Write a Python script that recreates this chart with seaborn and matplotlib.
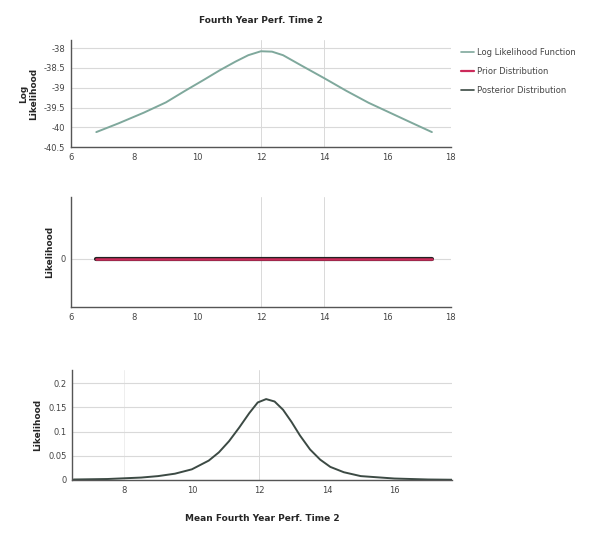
import numpy as np
import pandas as pd
import matplotlib
matplotlib.use("Agg")
import matplotlib.pyplot as plt
import seaborn as sns
from matplotlib.lines import Line2D

sns.set_style("white")
plt.rcParams['font.family'] = ['DejaVu Sans']

# --- dados ---
loglik_x = [6.8, 7.5, 8.3, 9.0, 9.6, 10.2, 10.7, 11.2, 11.6, 12.0, 12.35, 12.7, 13.3,
            14.0, 14.7, 15.4, 16.1, 16.8, 17.4]
loglik_y = [-40.12, -39.9, -39.63, -39.37, -39.08, -38.8, -38.56, -38.34, -38.18, -38.08,
            -38.09, -38.18, -38.45, -38.76, -39.08, -39.38, -39.64, -39.9, -40.12]

prior_x = [6.8, 17.4]
prior_y = [0.0, 0.0]

post_x = [6.5, 7.5, 8.5, 9.0, 9.5, 10.0, 10.5, 10.8, 11.1, 11.4, 11.7, 11.95, 12.2,
          12.45, 12.7, 12.95, 13.2, 13.5, 13.8, 14.1, 14.5, 15.0, 16.0, 17.0, 17.7]
post_y = [0.001, 0.002, 0.005, 0.008, 0.013, 0.022, 0.040, 0.057, 0.080, 0.108, 0.138,
          0.160, 0.167, 0.162, 0.145, 0.120, 0.092, 0.063, 0.042, 0.027, 0.016, 0.008,
          0.003, 0.001, 0.0005]

top_xticks = [6, 8, 10, 12, 14, 16, 18]
top_yticks = [-40.5, -40, -39.5, -39, -38.5, -38]
post_xticks = [8, 10, 12, 14, 16]
post_yticks = [0.0, 0.05, 0.1, 0.15, 0.2]

titulo = "Fourth Year Perf. Time 2"
rotulo_x = "Mean Fourth Year Perf. Time 2"
legenda = ["Log Likelihood Function", "Prior Distribution", "Posterior Distribution"]

cor_ll = "#7fa89c"
cor_prior = "#cc2a5a"
cor_post = "#3c4a44"
cor_grade = "#d9d9d9"

fig = plt.figure(figsize=(5.89, 5.39), dpi=100)
ax1 = fig.add_axes([0.1205, 0.727, 0.645, 0.1985])
ax2 = fig.add_axes([0.1205, 0.430, 0.645, 0.204])
ax3 = fig.add_axes([0.1222, 0.1095, 0.645, 0.204])

def estilo(ax):
    for s in ['top', 'right']:
        ax.spines[s].set_visible(False)
    for s in ['left', 'bottom']:
        ax.spines[s].set_color("#555555")
        ax.spines[s].set_linewidth(1.0)
    ax.tick_params(axis='both', labelsize=6, colors="#444444", length=2, width=0.6, pad=2)
    ax.set_axisbelow(True)

# --- painel 1: log verossimilhança ---
df1 = pd.DataFrame({'x': loglik_x, 'y': loglik_y})
sns.lineplot(data=df1, x='x', y='y', ax=ax1, color=cor_ll, linewidth=1.4)
ax1.set_xlim(6, 18)
ax1.set_ylim(-40.5, -37.8)
ax1.set_xticks(top_xticks)
ax1.set_yticks(top_yticks)
ax1.set_yticklabels([f"{v:g}" for v in top_yticks])
ax1.yaxis.grid(True, color=cor_grade, linewidth=0.8)
for xv in [12, 14]:
    ax1.axvline(xv, color=cor_grade, linewidth=0.7, zorder=0)
ax1.set_xlabel("")
ax1.set_ylabel("Log\nLikelihood", fontsize=6.5, fontweight='bold')
ax1.set_title(titulo, fontsize=6.5, fontweight='bold', pad=12)
estilo(ax1)

# --- painel 2: priori ---
df2 = pd.DataFrame({'x': prior_x, 'y': prior_y})
sns.lineplot(data=df2, x='x', y='y', ax=ax2, color="#222222", linewidth=3.0)
sns.lineplot(data=df2, x='x', y='y', ax=ax2, color=cor_prior, linewidth=1.8)
ax2.set_xlim(6, 18)
ax2.set_ylim(-0.88, 1.12)
ax2.set_xticks(top_xticks)
ax2.set_yticks([0])
ax2.axhline(0, color=cor_grade, linewidth=0.8, zorder=0)
for xv in [12, 14]:
    ax2.axvline(xv, color=cor_grade, linewidth=0.7, zorder=0)
ax2.set_xlabel("")
ax2.set_ylabel("Likelihood", fontsize=6.5, fontweight='bold')
estilo(ax2)

# --- painel 3: posteriori ---
df3 = pd.DataFrame({'x': post_x, 'y': post_y})
sns.lineplot(data=df3, x='x', y='y', ax=ax3, color=cor_post, linewidth=1.4)
ax3.set_xlim(6.45, 17.7)
ax3.set_ylim(0, 0.227)
ax3.set_xticks(post_xticks)
ax3.set_yticks(post_yticks)
ax3.set_yticklabels([f"{v:g}" for v in post_yticks])
ax3.yaxis.grid(True, color=cor_grade, linewidth=0.8)
ax3.axvline(8, color="#eeeeee", linewidth=0.7, zorder=0)
ax3.axvline(12, color=cor_grade, linewidth=0.7, zorder=0)
ax3.set_xlabel(rotulo_x, fontsize=6.5, fontweight='bold', labelpad=14)
ax3.set_ylabel("Likelihood", fontsize=6.5, fontweight='bold')
estilo(ax3)

# --- legenda ---
handles = [Line2D([], [], color=cor_ll, linewidth=1.2),
           Line2D([], [], color=cor_prior, linewidth=1.6),
           Line2D([], [], color=cor_post, linewidth=1.2)]
fig.legend(handles, legenda, loc='upper left', bbox_to_anchor=(0.77, 0.925),
           frameon=False, fontsize=6, handlelength=1.6, handletextpad=0.3,
           labelspacing=1.2, labelcolor="#444444")

fig.savefig("out.png", dpi=100)
